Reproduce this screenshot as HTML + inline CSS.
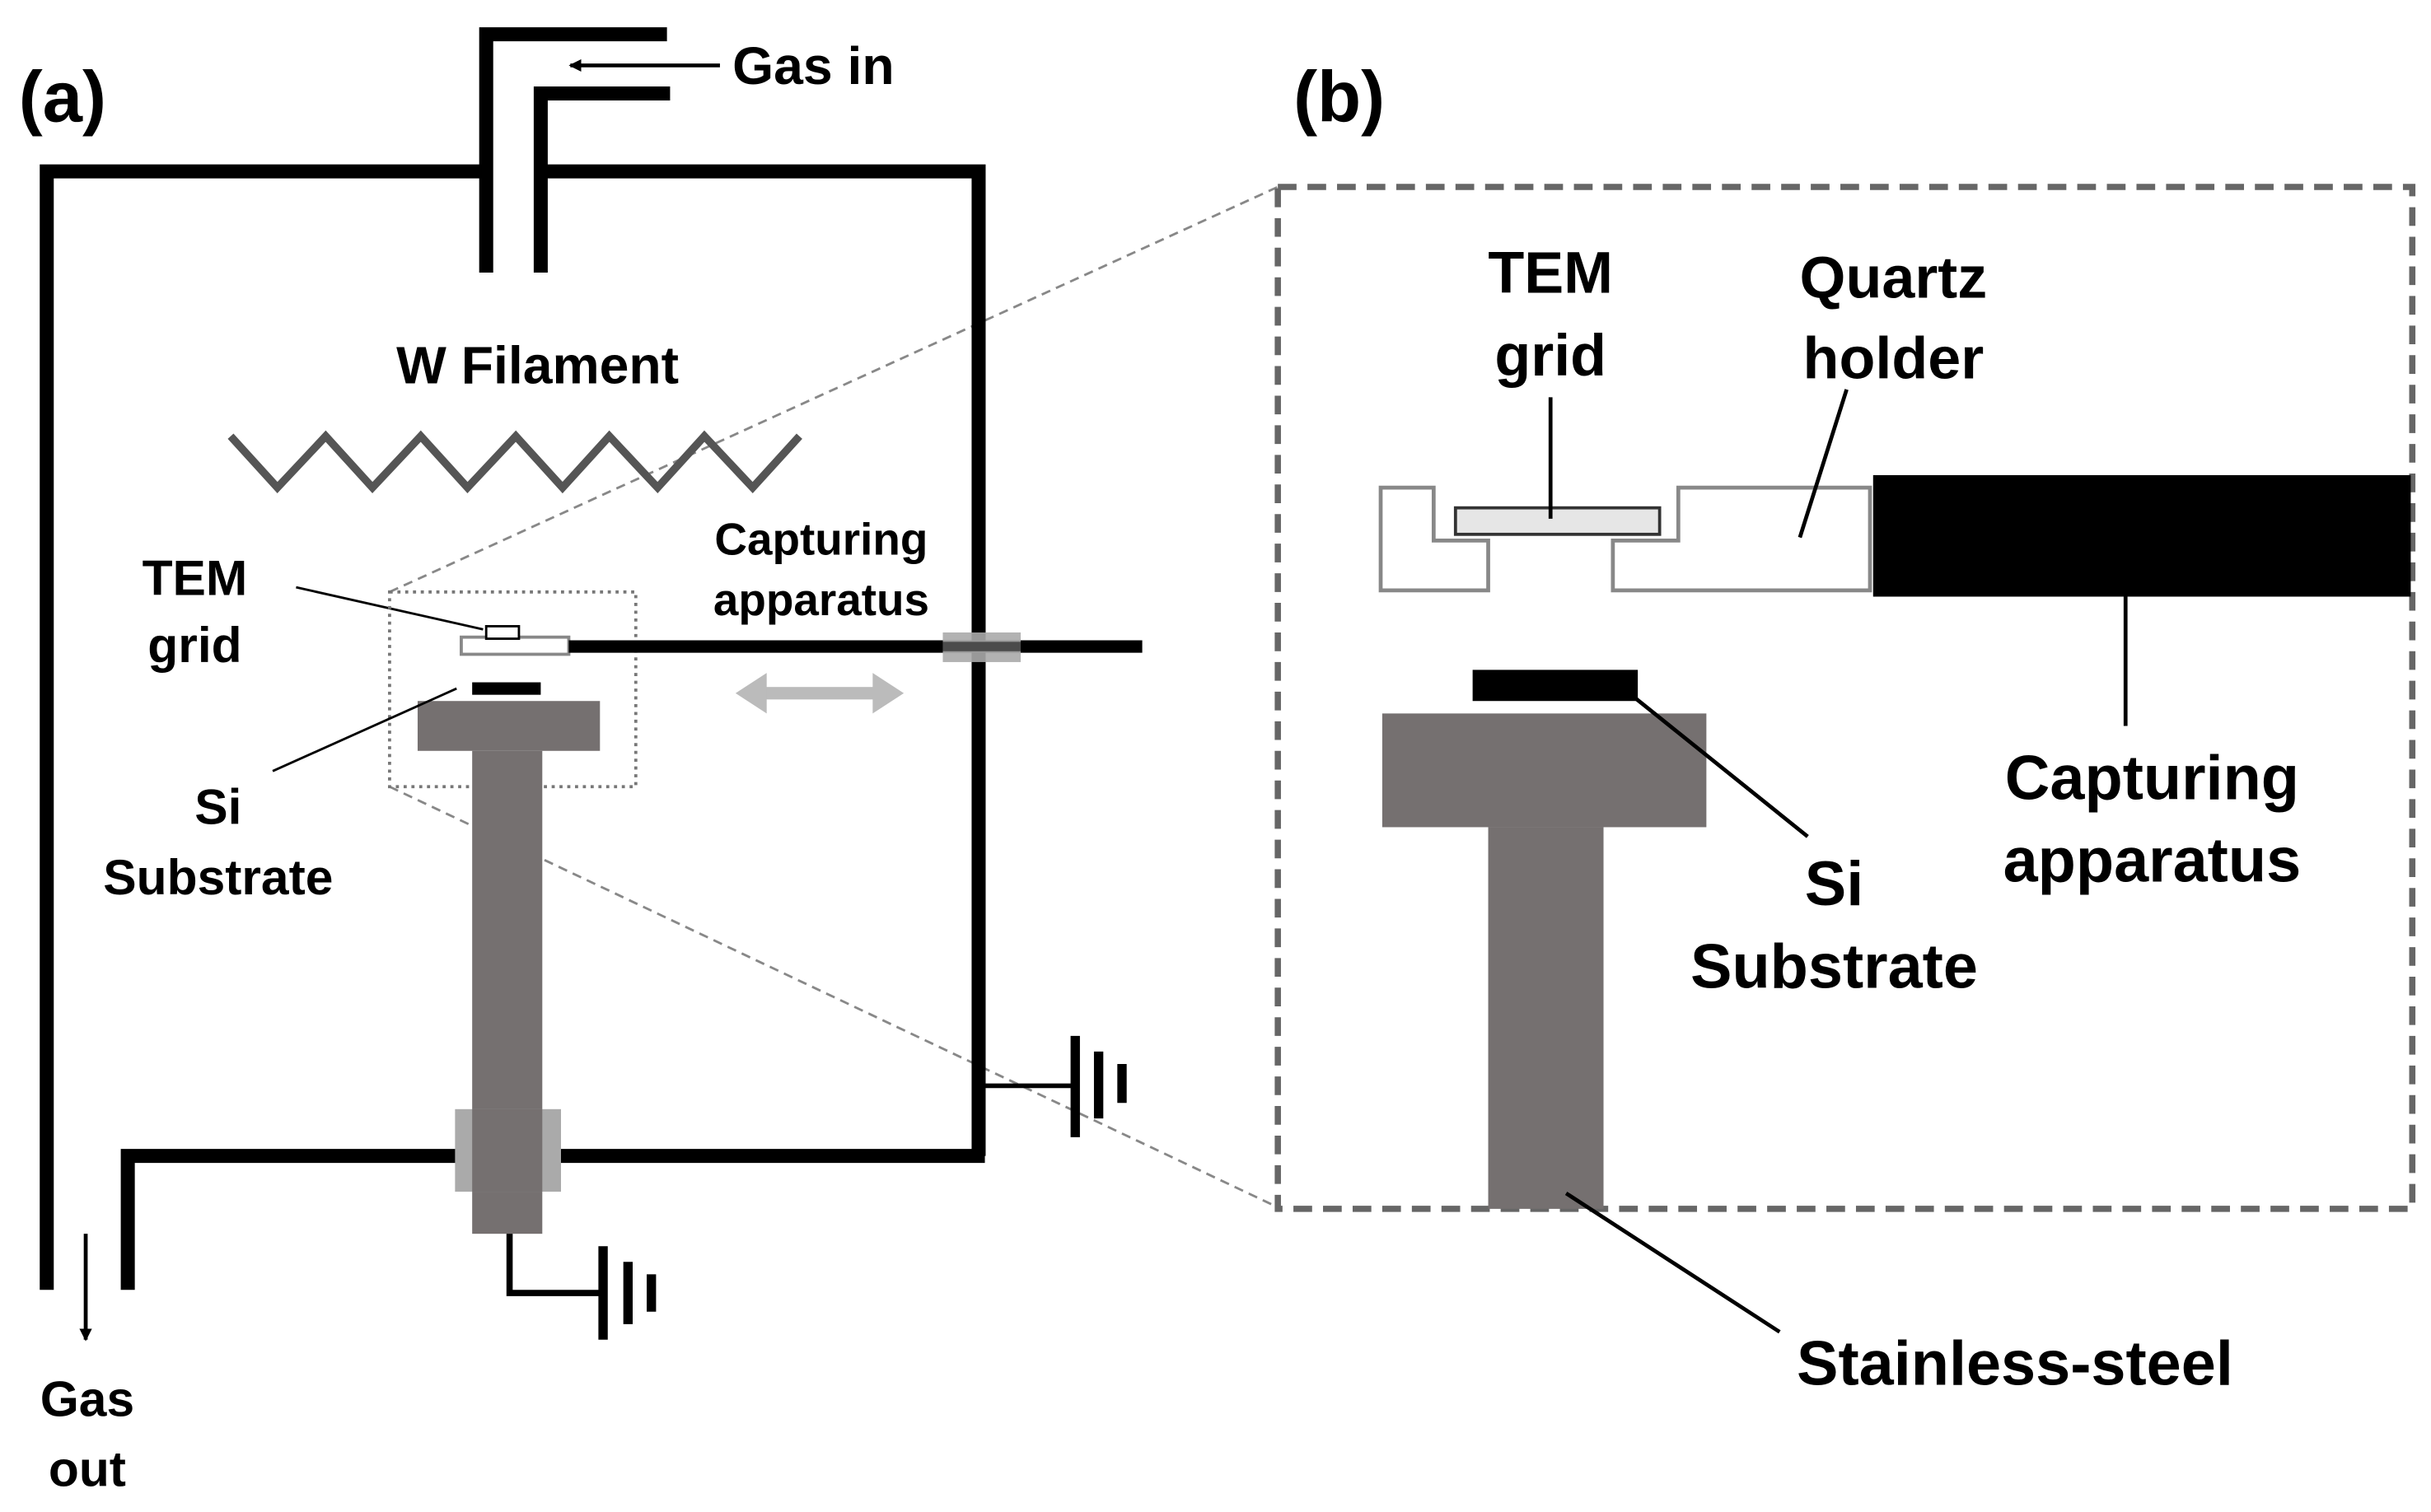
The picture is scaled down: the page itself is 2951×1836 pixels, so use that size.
<!DOCTYPE html>
<html><head><meta charset="utf-8"><style>
html,body{margin:0;padding:0;background:#fff;}
svg{display:block;}
text{font-family:"Liberation Sans",Arial,sans-serif;font-weight:bold;fill:#000;}
</style></head><body>
<svg width="2951" height="1836" viewBox="0 0 1560 970.6" preserveAspectRatio="none" xmlns="http://www.w3.org/2000/svg">
<defs>
<marker id="ah" markerWidth="8" markerHeight="8" refX="7" refY="4" orient="auto" markerUnits="userSpaceOnUse"><path d="M0,0 L8,4 L0,8 Z" fill="#000"/></marker>
</defs>
<!-- zoom lines -->
<line x1="250" y1="380" x2="820" y2="120" stroke="#888" stroke-width="1.5" stroke-dasharray="6,4"/>
<line x1="250" y1="505" x2="820" y2="775" stroke="#888" stroke-width="1.5" stroke-dasharray="6,4"/>
<!-- chamber -->
<g stroke="#000" stroke-width="9" fill="none">
<polyline points="30,828 30,110 310,110"/>
<polyline points="347,110 628,110 628,742"/>
<polyline points="632,742 82,742 82,828"/>
<polyline points="312,175 312,22 428,22"/>
<polyline points="347,175 347,60 430,60"/>
</g>
<line x1="462" y1="42" x2="366" y2="42" stroke="#000" stroke-width="2.5" marker-end="url(#ah)"/>
<text x="470" y="54" font-size="34">Gas in</text>
<text x="12" y="78" font-size="46">(a)</text>
<text x="830" y="78" font-size="46">(b)</text>
<text x="345" y="246" font-size="34" text-anchor="middle">W Filament</text>
<polyline points="148,280 178,313 209,280 239,313 270,280 300,313 331,280 361,313 391,280 422,313 452,280 483,313 513,280" fill="none" stroke="#555" stroke-width="5"/>
<!-- small holder -->
<text x="125" y="382" font-size="32" text-anchor="middle">TEM</text>
<text x="125" y="425" font-size="32" text-anchor="middle">grid</text>
<line x1="190" y1="377" x2="310" y2="404" stroke="#000" stroke-width="1.5"/>
<rect x="250" y="380" width="158" height="125" fill="none" stroke="#777" stroke-width="2" stroke-dasharray="2,3"/>
<rect x="296" y="409" width="69" height="11" fill="#fff" stroke="#888" stroke-width="2"/>
<rect x="312" y="402" width="21" height="8" fill="#fff" stroke="#000" stroke-width="1.5"/>
<line x1="365" y1="415" x2="733" y2="415" stroke="#000" stroke-width="8"/>
<rect x="605" y="406" width="50" height="19" fill="#aaa" opacity="0.9"/>
<line x1="605" y1="415" x2="655" y2="415" stroke="#000" stroke-width="6" opacity="0.5"/>
<text x="527" y="356" font-size="29" text-anchor="middle">Capturing</text>
<text x="527" y="395" font-size="29" text-anchor="middle">apparatus</text>
<g fill="#bbb"><rect x="488" y="441" width="76" height="8"/>
<polygon points="472,445 492,432 492,458"/><polygon points="580,445 560,432 560,458"/></g>
<rect x="303" y="438" width="44" height="8" fill="#000"/>
<rect x="268" y="450" width="117" height="32" fill="#757070"/>
<rect x="303" y="482" width="45" height="310" fill="#757070"/>
<rect x="292" y="712" width="68" height="53" fill="#aaa"/>
<rect x="303" y="712" width="45" height="53" fill="#757070"/>
<text x="140" y="529" font-size="32" text-anchor="middle">Si</text>
<text x="140" y="574" font-size="32" text-anchor="middle">Substrate</text>
<line x1="175" y1="495" x2="293" y2="442" stroke="#000" stroke-width="1.5"/>
<!-- grounds -->
<polyline points="327,792 327,830 387,830" fill="none" stroke="#000" stroke-width="4"/>
<g stroke="#000" stroke-width="6"><line x1="387" y1="800" x2="387" y2="860"/><line x1="403" y1="810" x2="403" y2="850"/><line x1="418" y1="818" x2="418" y2="842"/>
<line x1="690" y1="665" x2="690" y2="730"/><line x1="705" y1="675" x2="705" y2="718"/><line x1="720" y1="683" x2="720" y2="708"/></g>
<line x1="632" y1="697" x2="690" y2="697" stroke="#000" stroke-width="3"/>
<line x1="55" y1="792" x2="55" y2="860" stroke="#000" stroke-width="2.5" marker-end="url(#ah)"/>
<text x="56" y="909" font-size="32" text-anchor="middle">Gas</text>
<text x="56" y="954" font-size="32" text-anchor="middle">out</text>
<!-- panel b -->
<rect x="820" y="120" width="728" height="656" fill="none" stroke="#666" stroke-width="4" stroke-dasharray="12,7"/>
<text x="995" y="188" font-size="38" text-anchor="middle">TEM</text>
<text x="995" y="241" font-size="38" text-anchor="middle">grid</text>
<text x="1215" y="191" font-size="38" text-anchor="middle">Quartz</text>
<text x="1215" y="243" font-size="38" text-anchor="middle">holder</text>
<polygon points="886,313 920,313 920,347 955,347 955,379 886,379" fill="#fff" stroke="#888" stroke-width="2.5"/>
<polygon points="1035,347 1077,347 1077,313 1200,313 1200,379 1035,379" fill="#fff" stroke="#888" stroke-width="2.5"/>
<rect x="934" y="326" width="131" height="17" fill="#e6e6e6" stroke="#333" stroke-width="2"/>
<line x1="995" y1="255" x2="995" y2="333" stroke="#000" stroke-width="2.5"/>
<line x1="1185" y1="250" x2="1155" y2="345" stroke="#000" stroke-width="2.5"/>
<rect x="1202" y="305" width="345" height="78" fill="#000"/>
<line x1="1364" y1="383" x2="1364" y2="466" stroke="#000" stroke-width="2.5"/>
<text x="1381" y="513" font-size="40" text-anchor="middle">Capturing</text>
<text x="1381" y="566" font-size="40" text-anchor="middle">apparatus</text>
<rect x="945" y="430" width="106" height="20" fill="#000"/>
<rect x="887" y="458" width="208" height="73" fill="#757070"/>
<rect x="955" y="531" width="74" height="245" fill="#757070"/>
<line x1="1043" y1="443" x2="1160" y2="537" stroke="#000" stroke-width="2.5"/>
<text x="1177" y="581" font-size="40" text-anchor="middle">Si</text>
<text x="1177" y="634" font-size="40" text-anchor="middle">Substrate</text>
<line x1="1005" y1="766" x2="1142" y2="855" stroke="#000" stroke-width="2.5"/>
<text x="1293" y="889" font-size="40" text-anchor="middle">Stainless-steel</text>
</svg>
</body></html>
